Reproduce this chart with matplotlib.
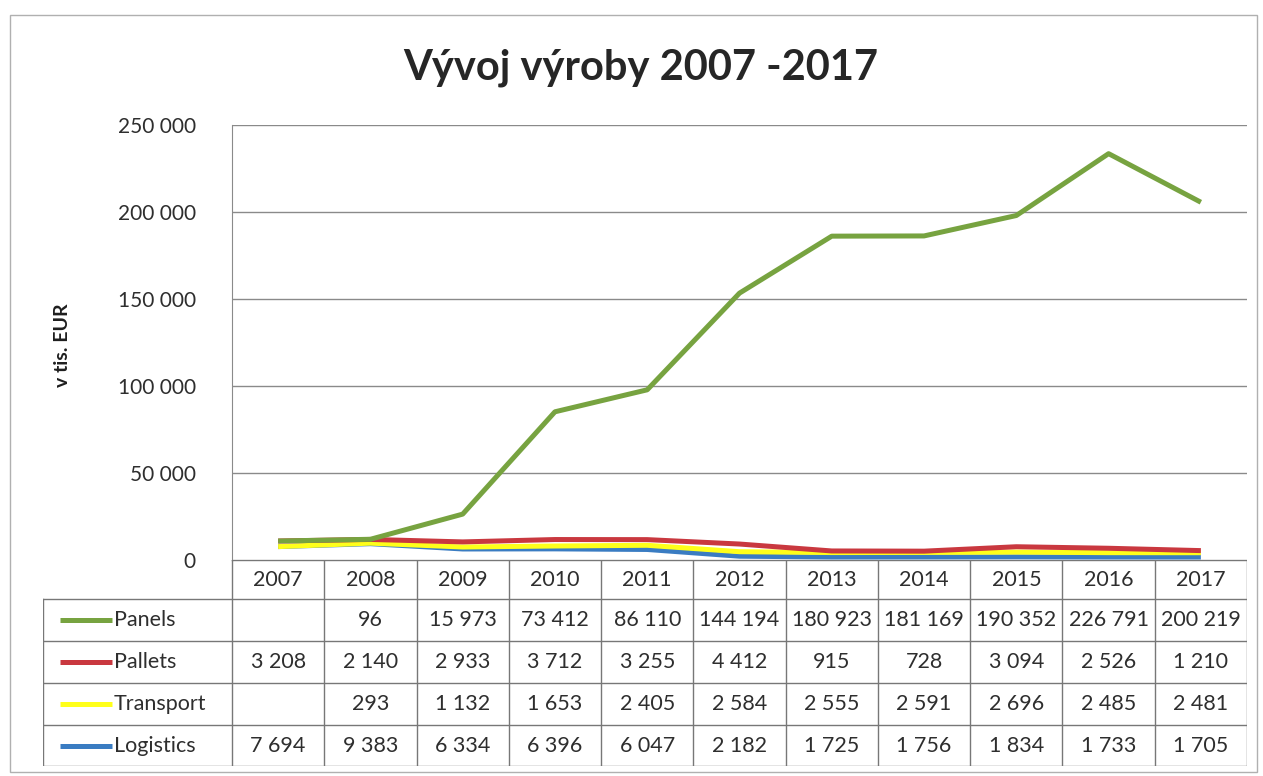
import matplotlib.pyplot as plt
import matplotlib.patches as patches

years = ['2007', '2008', '2009', '2010', '2011', '2012', '2013', '2014', '2015', '2016', '2017']
panels = [None, 96, 15973, 73412, 86110, 144194, 180923, 181169, 190352, 226791, 200219]
pallets = [3208, 2140, 2933, 3712, 3255, 4412, 915, 728, 3094, 2526, 1210]
transport = [None, 293, 1132, 1653, 2405, 2584, 2555, 2591, 2696, 2485, 2481]
logistics = [7694, 9383, 6334, 6396, 6047, 2182, 1725, 1756, 1834, 1733, 1705]

# table order (top to bottom) and stacking order is the reverse
series = [('Panels', panels, '#77a340'),
          ('Pallets', pallets, '#c9383f'),
          ('Transport', transport, '#ffff1a'),
          ('Logistics', logistics, '#3a7cc2')]

plt.rcParams['font.family'] = ['Lato', 'DejaVu Sans']

W, H = 1263, 776
fig = plt.figure(figsize=(W / 100, H / 100), dpi=100)

def px_rect(x0, y0, x1, y1):
    return [x0 / W, 1 - y1 / H, (x1 - x0) / W, (y1 - y0) / H]

# outer chart border
fig.patches.append(patches.Rectangle((10 / W, 1 - 772 / H), 1247 / W, 757 / H,
                                     transform=fig.transFigure, fill=False,
                                     edgecolor='#b0b0b0', linewidth=1))

fig.text(641 / W, 1 - 68 / H, 'Vývoj výroby 2007 -2017', ha='center', va='center',
         fontsize=30, fontweight='bold', color='#262626')

# main plot
ax = fig.add_axes(px_rect(232, 125, 1247, 560))
x = list(range(len(years)))
cum = [0] * len(years)
stacked = {}
for name, vals, clr in reversed(series):
    cum = [c + (v or 0) for c, v in zip(cum, vals)]
    stacked[name] = cum
for name, vals, clr in reversed(series):
    ax.plot(x, stacked[name], color=clr, linewidth=3.6, solid_capstyle='butt', zorder=3)

ax.set_xlim(-0.5, len(years) - 0.5)
ax.set_ylim(0, 250000)
ax.set_yticks(range(0, 250001, 50000))
ax.set_yticklabels([f'{v:,}'.replace(',', ' ') for v in range(0, 250001, 50000)],
                   fontsize=15, color='#2e2e2e')
ax.tick_params(axis='y', length=0, pad=26)
ax.set_xticks([])
ax.grid(axis='y', color='#8a8a8a', linewidth=1)
for s in ['top', 'right', 'bottom']:
    ax.spines[s].set_visible(False)
ax.spines['left'].set_color('#8a8a8a')
ax.set_facecolor('none')

fig.text(62 / W, 1 - 345 / H, 'v tis. EUR', rotation=90, ha='center', va='center',
         fontsize=14, fontweight='bold', color='#1e1e1e')

# data table below the plot, sharing the x units
tab = fig.add_axes(px_rect(43, 560, 1247, 766))
col_w = (1247 - 232) / len(years)
left_x = -0.5 - (232 - 43) / col_w
tab.set_xlim(left_x, len(years) - 0.5)
tab.set_ylim(766, 560)
tab.axis('off')
row_edges = [560, 599, 641, 683, 725, 766]
lc = '#777777'
# horizontal lines
tab.plot([-0.5, len(years) - 0.5], [row_edges[0]] * 2, color=lc, lw=1)
for yy in row_edges[1:]:
    tab.plot([left_x, len(years) - 0.5], [yy, yy], color=lc, lw=1)
# vertical lines
for i in range(len(years) + 1):
    tab.plot([i - 0.5, i - 0.5], [row_edges[0], row_edges[-1]], color=lc, lw=1)
tab.plot([left_x, left_x], [row_edges[1], row_edges[-1]], color=lc, lw=1)

hy = (row_edges[0] + row_edges[1]) / 2
for i, yr in enumerate(years):
    tab.text(i, hy, yr, ha='center', va='center', fontsize=15.5, color='#2e2e2e')

for r, (name, vals, clr) in enumerate(series):
    cy = (row_edges[r + 1] + row_edges[r + 2]) / 2
    tab.plot([left_x + 0.18, left_x + 0.75], [cy, cy], color=clr, lw=3.6,
             solid_capstyle='butt')
    tab.text(left_x + 0.77, cy, name, ha='left', va='center', fontsize=15.5, color='#2e2e2e')
    for i, v in enumerate(vals):
        if v is None:
            continue
        tab.text(i, cy, f'{v:,}'.replace(',', ' '), ha='center', va='center',
                 fontsize=15.5, color='#2e2e2e')

fig.savefig('out.png', dpi=100)
